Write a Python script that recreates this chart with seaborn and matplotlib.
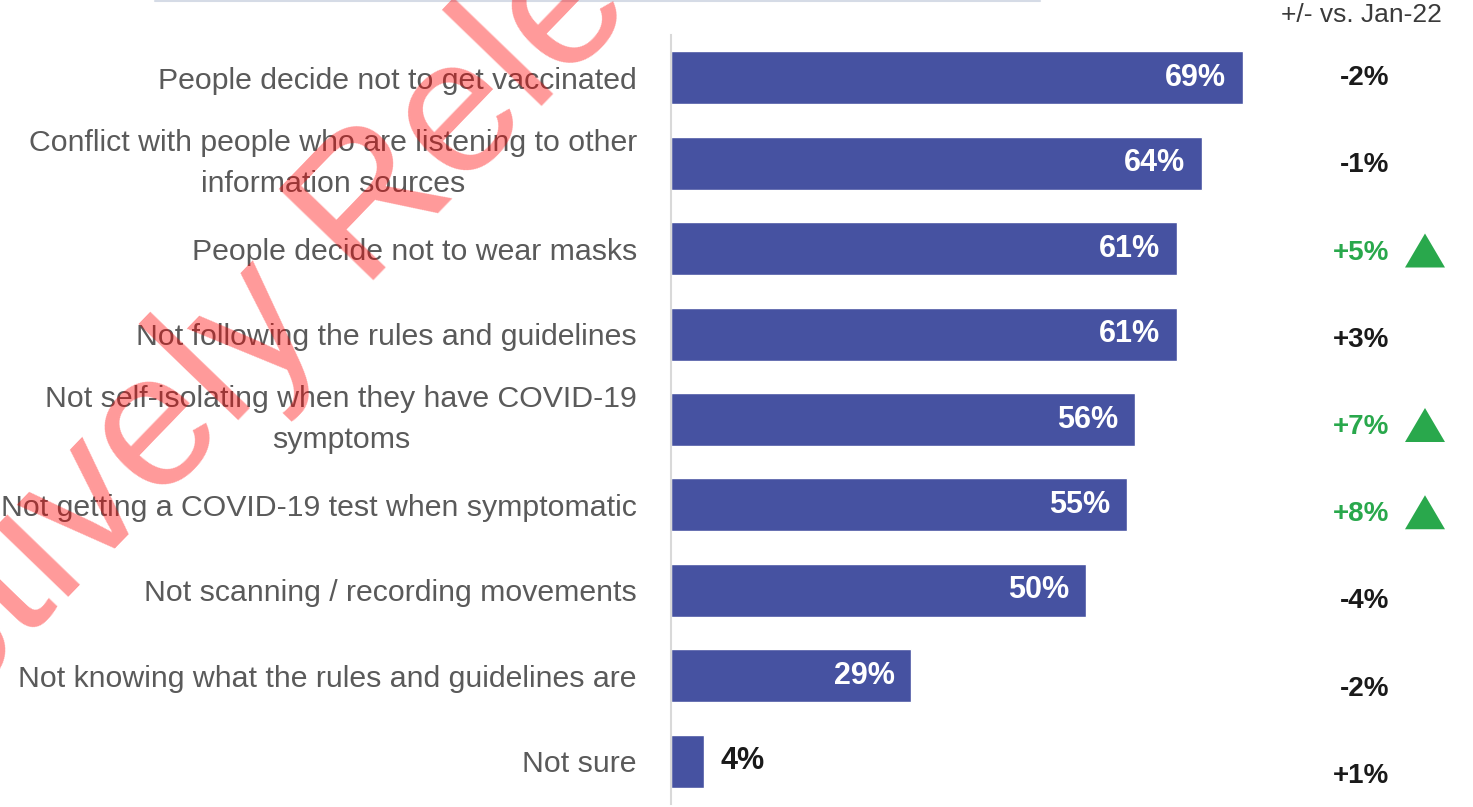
import numpy as np
import matplotlib
matplotlib.use("Agg")
import matplotlib.pyplot as plt
from matplotlib.patches import Polygon
import seaborn as sns

# Survey results: share of respondents naming each concern
categories = [
    "People decide not to get vaccinated",
    "Conflict with people who are listening to other\ninformation sources",
    "People decide not to wear masks",
    "Not following the rules and guidelines",
    "Not self-isolating when they have COVID-19\nsymptoms",
    "Not getting a COVID-19 test when symptomatic",
    "Not scanning / recording movements",
    "Not knowing what the rules and guidelines are",
    "Not sure",
]
values = [69, 64, 61, 61, 56, 55, 50, 29, 4]

# Change in percentage points versus January 2022
changes = [-2, -1, 5, 3, 7, 8, -4, -2, 1]
significant = [False, False, True, False, True, True, False, False, False]
change_header = "+/- vs. Jan-22"
watermark = "Proactively Released"

BAR = "#4652A1"
GREEN = "#29A84C"
LABEL_GREY = "#5a5a5a"
W, H = 1473, 807

sns.set_theme(style="white")
plt.rcParams["font.family"] = ["Liberation Sans", "DejaVu Sans"]

fig = plt.figure(figsize=(W / 100, H / 100), dpi=100)
ax = fig.add_axes([671 / W, 1 - 804 / H, 1 - 671 / W, (804 - 35) / H])

sns.barplot(x=values, y=categories, orient="h", color=BAR, saturation=1,
            width=0.62, ax=ax)
ax.set_xlim(0, (W - 671) / 8.29)
ax.set_xlabel("")
ax.set_ylabel("")
ax.set_xticks([])
for side in ("top", "right", "bottom"):
    ax.spines[side].set_visible(False)
ax.spines["left"].set_color("#d9d9d9")
ax.spines["left"].set_linewidth(1.5)
ax.tick_params(axis="y", length=0, pad=24.5, labelsize=21.8, labelcolor=LABEL_GREY)
for lab in ax.get_yticklabels():
    lab.set_multialignment("center")
    lab.set_linespacing(1.6)
    if "\n" in lab.get_text():
        lab.set_verticalalignment("center")

# value labels: inside the bar end, or just outside for short bars
for i, v in enumerate(values):
    if v >= 10:
        ax.annotate(f"{v}%", (v, i), xytext=(-12, 0), textcoords="offset points",
                    ha="right", va="center", color="white", fontsize=22,
                    fontweight="bold")
    else:
        ax.annotate(f"{v}%", (v, i), xytext=(12, 0), textcoords="offset points",
                    ha="left", va="center", color="#1a1a1a", fontsize=22,
                    fontweight="bold")

# overlay in pixel units for the change column and the stamp
ov = fig.add_axes([0, 0, 1, 1], zorder=5)
ov.set_xlim(0, W)
ov.set_ylim(H, 0)
ov.axis("off")
ov.patch.set_alpha(0)

ov.plot([155, 1040], [1, 1], color="#d5dbe6", lw=1.5)
ov.text(1361, 15, change_header, ha="center", va="center", fontsize=19,
        color="#3a3a3a")

rows_y = np.linspace(78, 776, len(changes))
for y, c, sig in zip(rows_y, changes, significant):
    txt = f"{c:+d}%"
    ov.text(1389, y, txt, ha="right", va="center", fontsize=20,
            fontweight="bold", color=GREEN if sig else "#1a1a1a")
    if sig:
        cx, cy = 1425, y - 2
        ov.add_patch(Polygon([(cx - 20, cy + 17), (cx + 20, cy + 17), (cx, cy - 17)],
                             closed=True, color=GREEN, lw=0))

ov.text(301, 357, watermark, ha="center", va="baseline", rotation=46,
        rotation_mode="anchor", fontsize=138, color="red", alpha=0.4)

fig.savefig("out.png", dpi=100)
